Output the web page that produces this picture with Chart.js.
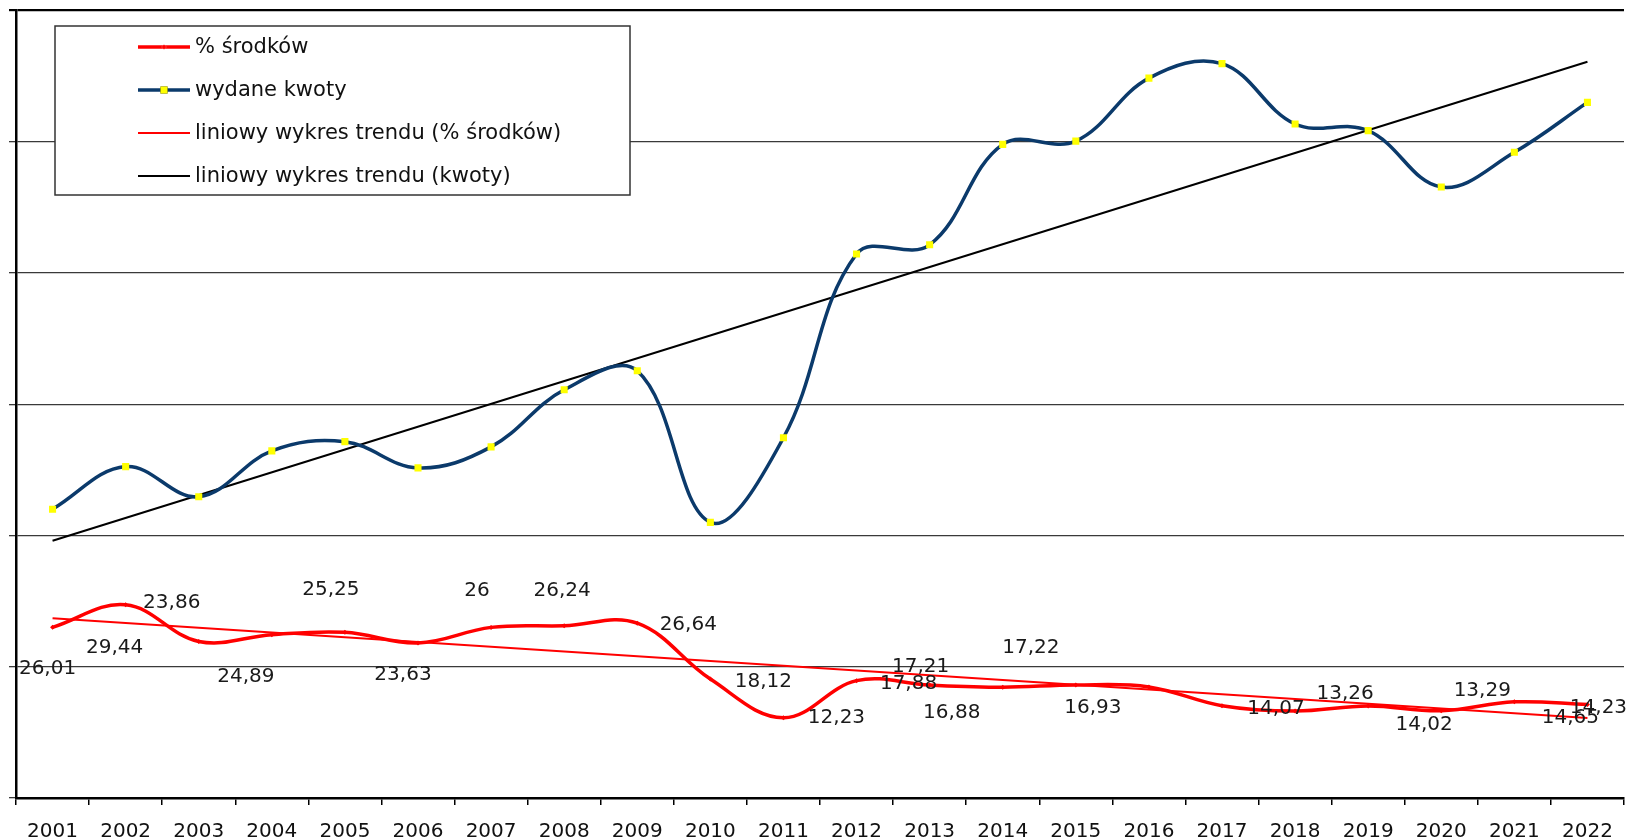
<!DOCTYPE html>
<html>
<head>
<meta charset="utf-8">
<script src="https://cdn.jsdelivr.net/npm/chart.js@4"></script>
<style>
    body { margin: 0; background: #fff; }
    #wrap { width: 1629px; height: 837px; }
</style>
</head>
<body>
<div id="wrap"><canvas id="myChart" width="1629" height="837"></canvas></div>
<script>
const years = ['2001', '2002', '2003', '2004', '2005', '2006', '2007', '2008', '2009', '2010', '2011',
    '2012', '2013', '2014', '2015', '2016', '2017', '2018', '2019', '2020', '2021', '2022'];

// % środków (values printed on the chart)
const procentSrodkow = [26.01, 29.44, 23.86, 24.89, 25.25, 23.63, 26, 26.24, 26.64, 18.12, 12.23,
    17.88, 17.21, 16.88, 17.22, 16.93, 14.07, 13.26, 14.02, 13.29, 14.65, 14.23];

// wydane kwoty (no scale printed)
const wydaneKwoty = [44.0, 50.5, 45.9, 52.9, 54.3, 50.3, 53.5, 62.2, 65.1, 42.0, 54.9,
    82.9, 84.3, 99.6, 100.1, 109.7, 111.9, 102.7, 101.7, 93.1, 98.4, 106.0];

// trend lines, first and last year
const trendProcent = [27.4, 12.2];
const trendKwoty = [39.2, 112.2];

const yTicks = [0, 20, 40, 60, 80, 100, 120];

// where each value label sits relative to its point (px)
const labelShift = [[-5, 41], [-11, 43], [-27, -39], [-26, 42], [-14, -43], [-15, 32], [-14, -37],
    [-2, -35], [51, 2], [53, 3], [53, 0], [52, 3], [-9, -18], [-51, 26], [-45, -37], [-56, 21],
    [54, 3], [50, -17], [56, 19], [41, -20], [56, 16], [11, 3]];

const FONT = 'DejaVu Sans';
const first = years[0];
const last = years[years.length - 1];

const valueLabels = {
    id: 'valueLabels',
    afterDatasetsDraw(chart) {
        const c = chart.ctx;
        const meta = chart.getDatasetMeta(0);
        c.save();
        c.font = '20px "' + FONT + '"';
        c.fillStyle = '#1a1a1a';
        c.textAlign = 'center';
        c.textBaseline = 'middle';
        meta.data.forEach(function (pt, i) {
            const txt = String(procentSrodkow[i]).replace('.', ',');
            c.fillText(txt, pt.x + labelShift[i][0], pt.y + labelShift[i][1]);
        });
        c.restore();
    }
};

const boxLegend = {
    id: 'boxLegend',
    afterDraw(chart) {
        const c = chart.ctx;
        const x = 55, y = 26, w = 575, h = 169;
        c.save();
        c.fillStyle = '#fff';
        c.fillRect(x, y, w, h);
        c.strokeStyle = '#333';
        c.lineWidth = 1.5;
        c.strokeRect(x, y, w, h);
        c.font = '21px "' + FONT + '"';
        c.textBaseline = 'middle';
        c.textAlign = 'left';
        chart.data.datasets.forEach(function (ds, i) {
            const ry = 47 + i * 43;
            c.strokeStyle = ds.borderColor;
            c.lineWidth = ds.borderWidth;
            c.beginPath();
            c.moveTo(138, ry);
            c.lineTo(190, ry);
            c.stroke();
            if (ds.pointRadius > 0) {
                Chart.helpers.drawPoint(c, {
                    pointStyle: ds.pointStyle,
                    radius: ds.pointRadius,
                    borderWidth: 0
                }, 164, ry);
                c.fillStyle = ds.pointBackgroundColor;
                c.fill();
            }
            c.fillStyle = '#111';
            c.fillText(ds.label, 195, ry + 1);
        });
        c.restore();
    }
};

const ctx = document.getElementById('myChart');

new Chart(ctx, {
    type: 'line',
    data: {
        labels: years,
        datasets: [{
            label: '% środków',
            data: procentSrodkow,
            borderColor: '#ff0000',
            borderWidth: 3.5,
            tension: 0.38,
            pointStyle: 'rectRot',
            pointRadius: 2.5,
            pointBackgroundColor: '#ff0000',
            pointBorderWidth: 0,
        }, {
            label: 'wydane kwoty',
            data: wydaneKwoty,
            borderColor: '#0b3a6b',
            borderWidth: 3.5,
            tension: 0.38,
            pointStyle: 'rect',
            pointRadius: 5,
            pointBackgroundColor: '#ffff00',
            pointBorderWidth: 0,
        }, {
            label: 'liniowy wykres trendu (% środków)',
            data: [{ x: first, y: trendProcent[0] }, { x: last, y: trendProcent[1] }],
            borderColor: '#ff0000',
            borderWidth: 2,
            pointRadius: 0,
            tension: 0,
        }, {
            label: 'liniowy wykres trendu (kwoty)',
            data: [{ x: first, y: trendKwoty[0] }, { x: last, y: trendKwoty[1] }],
            borderColor: '#000000',
            borderWidth: 2,
            pointRadius: 0,
            tension: 0,
        }],
    },
    options: {
        responsive: false,
        animation: false,
        layout: {
            padding: { left: 9, right: 5, top: 10.5, bottom: 0 },
        },
        scales: {
            x: {
                offset: true,
                afterFit: function (axis) {
                    axis.height = 39;
                },
                grid: {
                    offset: true,
                    drawOnChartArea: false,
                    drawTicks: true,
                    tickLength: 7,
                    color: '#000',
                    lineWidth: 1.5,
                },
                border: { color: '#000', width: 2.5 },
                ticks: {
                    padding: 15,
                    color: '#111',
                    maxRotation: 0,
                    autoSkip: false,
                    font: { family: FONT, size: 20 },
                },
            },
            y: {
                min: yTicks[0],
                max: yTicks[yTicks.length - 1],
                afterBuildTicks: function (axis) {
                    axis.ticks = yTicks.map(function (v) { return { value: v }; });
                },
                grid: {
                    tickLength: 7,
                    color: function (c) { return c.tick && c.tick.value === 120 ? '#000' : '#3a3a3a'; },
                    lineWidth: function (c) { return c.tick && c.tick.value === 120 ? 2.2 : 1.3; },
                },
                border: { color: '#000', width: 2.5 },
                ticks: { display: false },
            },
        },
        plugins: {
            legend: { display: false },
            tooltip: { enabled: false },
        },
    },
    plugins: [valueLabels, boxLegend],
});
</script>
</body>
</html>
